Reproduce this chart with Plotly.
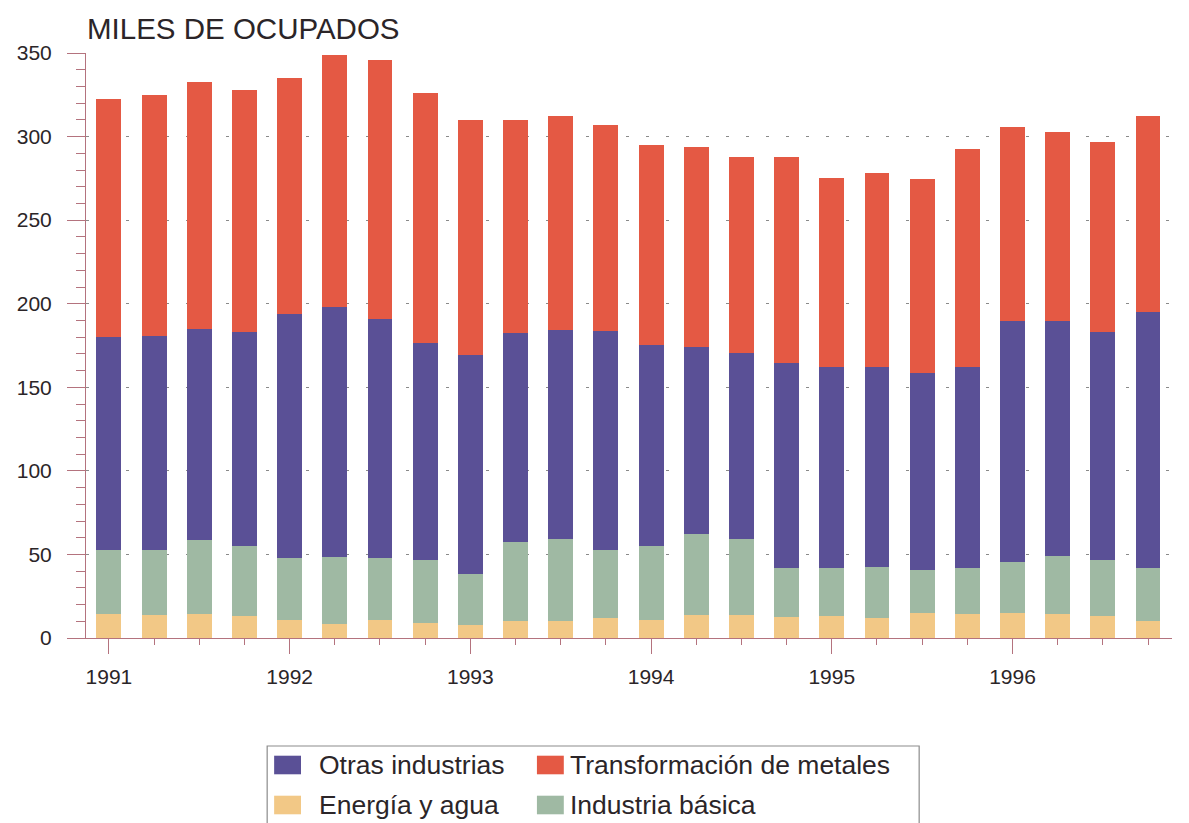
import plotly.graph_objects as go

# ---- data (miles de ocupados, trimestral 1991-1996) ----
periodos = list(range(24))
anios = ["1991", "1992", "1993", "1994", "1995", "1996"]
energia = [14.5, 13.9, 14.1, 12.9, 10.5, 8.5, 10.5, 9.1, 7.5, 9.9, 9.9, 12.1,
           10.9, 13.5, 13.5, 12.5, 13.1, 12.1, 14.9, 14.5, 14.9, 14.1, 13.3, 10.1]
basica = [38.0, 39.0, 44.4, 42.0, 37.6, 39.9, 37.6, 37.4, 31.0, 47.4, 49.6, 40.8,
          44.0, 49.0, 46.0, 29.6, 29.0, 30.3, 25.6, 27.3, 30.5, 34.8, 33.6, 31.6]
otras = [127.5, 128.0, 126.6, 128.3, 145.8, 149.7, 142.8, 129.9, 130.9, 125.1, 124.9, 130.9,
         120.5, 111.8, 110.9, 122.3, 119.9, 120.0, 118.3, 120.2, 144.3, 140.8, 136.1, 153.6]
metales = [142.2, 143.7, 147.5, 144.6, 140.9, 150.9, 154.7, 149.4, 140.3, 127.7, 127.7, 123.0,
           119.4, 119.6, 117.1, 123.5, 113.1, 115.9, 115.7, 130.7, 116.2, 113.2, 113.6, 116.9]

# ---- style ----
OFF = 8  # browser body margin
W, H = 1189 - 2 * OFF, 823 - OFF
L, T, B = 81 - OFF, 53 - OFF, 185
R = W - (1172 - OFF)
PW, PH = W - L - R, H - T - B
FONT = "Liberation Sans, Arial, sans-serif"
TXT = "#2b2528"
AX = "#b4737e"
C_EN, C_BA, C_OT, C_ME = "#f2c886", "#9fb9a3", "#5a5096", "#e45944"


def px(x):
    return (x - OFF - L) / PW


def py(y):
    return (H - B - (y - OFF)) / PH


fig = go.Figure()
for name, vals, col in [("Energía y agua", energia, C_EN),
                        ("Industria básica", basica, C_BA),
                        ("Otras industrias", otras, C_OT),
                        ("Transformación de metales", metales, C_ME)]:
    fig.add_trace(go.Bar(x=periodos, y=vals, name=name, marker=dict(color=col, line=dict(width=0)),
                         width=0.55, showlegend=False))

fig.update_layout(
    width=W, height=H, barmode="stack",
    margin=dict(l=L, r=R, t=T, b=B, pad=0),
    paper_bgcolor="white", plot_bgcolor="white",
    font=dict(family=FONT, color=TXT),
    xaxis=dict(range=[-0.507, 23.53], tickmode="array",
               tickvals=[0, 4, 8, 12, 16, 20], ticktext=anios,
               ticks="outside", ticklen=15, tickcolor=AX, tickwidth=1,
               showline=True, linecolor=AX, linewidth=1, showgrid=False, zeroline=False,
               tickfont=dict(size=21, color=TXT), ticklabelstandoff=5,
               minor=dict(tickmode="array", tickvals=periodos, ticks="outside",
                          ticklen=6, tickcolor=AX, showgrid=False)),
    yaxis=dict(range=[0, 350], tickmode="linear", tick0=0, dtick=50,
               ticks="outside", ticklen=18, tickcolor=AX, tickwidth=1,
               showline=True, linecolor=AX, linewidth=1, zeroline=False,
               showgrid=True, gridcolor="#8a8a8a", gridwidth=1.4, griddash="3px,17px",
               tickfont=dict(size=21, color=TXT), ticklabelstandoff=11,
               minor=dict(tickmode="linear", tick0=0, dtick=10, ticks="outside",
                          ticklen=9, tickcolor=AX, showgrid=False)),
)

anns = [dict(text="MILES DE OCUPADOS", x=px(80), y=py(29), xref="paper", yref="paper",
             xanchor="left", yanchor="middle", showarrow=False,
             font=dict(size=29.5, color=TXT, family=FONT))]
shapes = [dict(type="rect", xref="paper", yref="paper", x0=px(263), x1=px(918),
               y0=py(746), y1=py(840), line=dict(color="#8c8c8c", width=1.2),
               fillcolor="rgba(0,0,0,0)")]
items = [("Otras industrias", C_OT, 270, 313, 765),
         ("Transformación de metales", C_ME, 534, 565, 765),
         ("Energía y agua", C_EN, 270, 313, 805),
         ("Industria básica", C_BA, 534, 565, 805)]
for text, col, sx, tx, cy in items:
    shapes.append(dict(type="rect", xref="paper", yref="paper", x0=px(sx), x1=px(sx + 27),
                       y0=py(cy - 9.3), y1=py(cy + 9.3), line=dict(width=0), fillcolor=col))
    anns.append(dict(text=text, x=px(tx), y=py(cy), xref="paper", yref="paper",
                     xanchor="left", yanchor="middle", showarrow=False,
                     font=dict(size=26.5, color=TXT, family=FONT)))
fig.update_layout(annotations=anns, shapes=shapes)

fig.write_html("out.html")
